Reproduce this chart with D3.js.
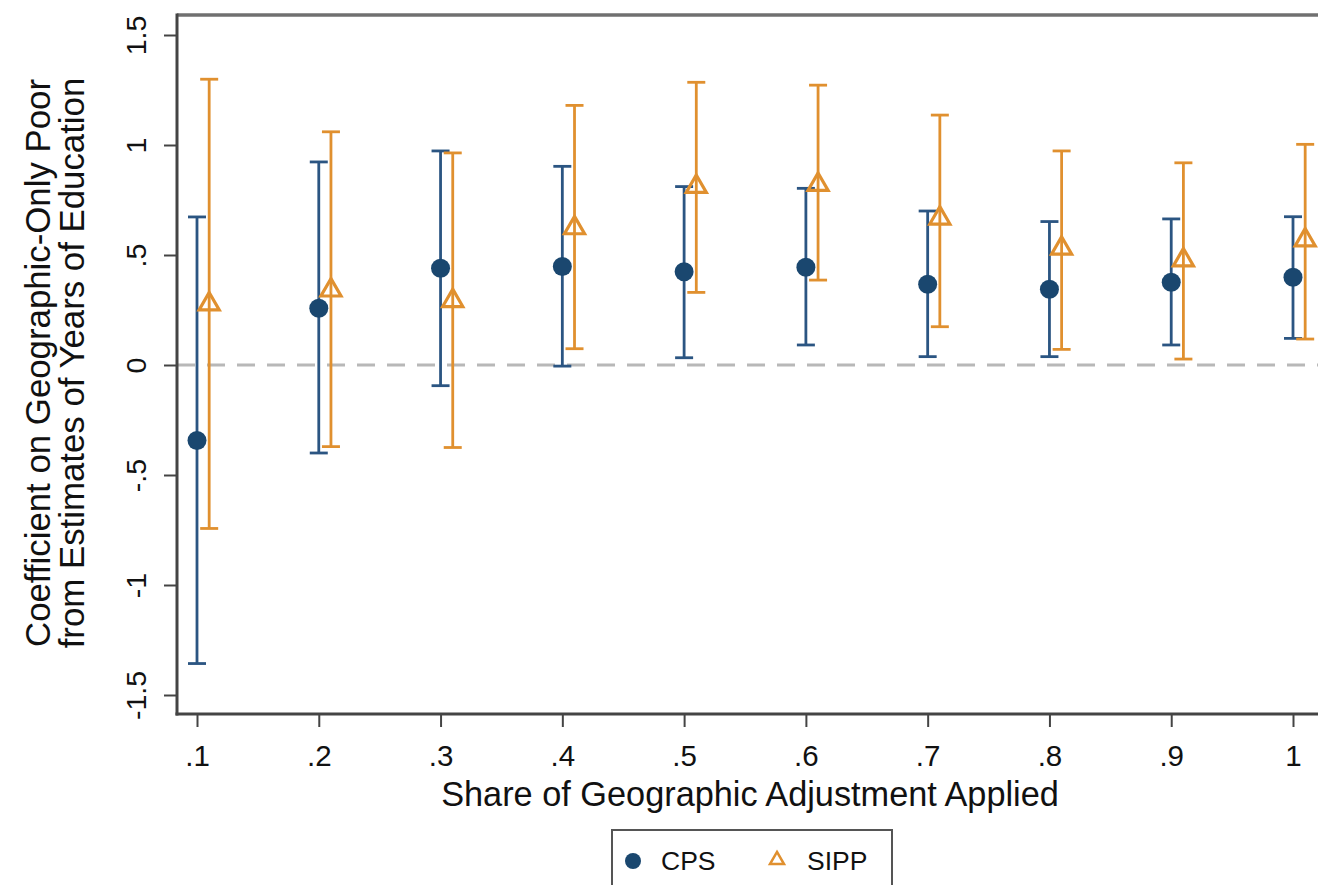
<!DOCTYPE html>
<html>
<head>
<meta charset="utf-8">
<script src="https://cdn.jsdelivr.net/npm/d3@7"></script>
<style>
  html, body { margin: 0; padding: 0; background: #fff; }
  svg { display: block; }
  text { font-family: "Liberation Sans", Arial, Helvetica, sans-serif; fill: #111; }
</style>
</head>
<body>
<svg id="chart" width="1318" height="885"></svg>
<script>
// ---- data ----
const shares = [0.1, 0.2, 0.3, 0.4, 0.5, 0.6, 0.7, 0.8, 0.9, 1.0];
const cpsEst  = [-0.343, 0.258, 0.440, 0.448, 0.424, 0.444, 0.367, 0.344, 0.376, 0.399];
const cpsLo   = [-1.357, -0.400, -0.094, -0.005, 0.033, 0.091, 0.038, 0.038, 0.091, 0.121];
const cpsHi   = [0.673, 0.923, 0.973, 0.903, 0.811, 0.803, 0.700, 0.652, 0.664, 0.674];
const sippEst = [0.277, 0.340, 0.292, 0.623, 0.811, 0.820, 0.667, 0.530, 0.477, 0.568];
const sippLo  = [-0.743, -0.371, -0.375, 0.074, 0.330, 0.386, 0.174, 0.071, 0.027, 0.118];
const sippHi  = [1.299, 1.060, 0.964, 1.180, 1.285, 1.272, 1.136, 0.973, 0.919, 1.003];
const sippOffset = 0.01;
const xTicks = [0.1, 0.2, 0.3, 0.4, 0.5, 0.6, 0.7, 0.8, 0.9, 1.0];
const xTickLabels = [".1", ".2", ".3", ".4", ".5", ".6", ".7", ".8", ".9", "1"];
const yTicks = [-1.5, -1, -0.5, 0, 0.5, 1, 1.5];
const yTickLabels = ["-1.5", "-1", "-.5", "0", ".5", "1", "1.5"];
const seriesNames = ["CPS", "SIPP"];

// ---- styles ----
const navy = "#1a476f";
const orange = "#e0902f";

const svg = d3.select("#chart");
const plot = { left: 177, top: 15, right: 1323, bottom: 714 };

const x = d3.scaleLinear().domain([0.1, 1.0]).range([197, 1293]);
const y = d3.scaleLinear().domain([-1.5, 1.5]).range([695, 35]);

// zero reference line
svg.append("line")
  .attr("x1", plot.left).attr("x2", plot.right)
  .attr("y1", y(0)).attr("y2", y(0))
  .attr("stroke", "#b8b8b8").attr("stroke-width", 3)
  .attr("stroke-dasharray", "18,12");

// top border
svg.append("line")
  .attr("x1", plot.left).attr("x2", plot.right)
  .attr("y1", plot.top).attr("y2", plot.top)
  .attr("stroke", "#707070").attr("stroke-width", 3.5);

// y axis
const yAxis = d3.axisLeft(y).tickValues(yTicks)
  .tickFormat((d, i) => yTickLabels[i]).tickSizeOuter(0).tickSize(13);
const gy = svg.append("g").attr("transform", `translate(${plot.left},0)`).call(yAxis);
gy.select(".domain").remove();
gy.append("line").attr("x1", 0).attr("x2", 0)
  .attr("y1", plot.top - 1.5).attr("y2", plot.bottom + 1.5)
  .attr("stroke", "#444").attr("stroke-width", 3);
gy.selectAll(".tick line").attr("stroke", "#444").attr("stroke-width", 2);
gy.selectAll(".tick text")
  .attr("x", null).attr("dy", null)
  .attr("transform", "translate(-31,0) rotate(-90)")
  .attr("text-anchor", "middle")
  .attr("font-size", 28.5)
  .style("fill", "#111");

// x axis
const xAxis = d3.axisBottom(x).tickValues(xTicks)
  .tickFormat((d, i) => xTickLabels[i]).tickSizeOuter(0).tickSize(13);
const gx = svg.append("g").attr("transform", `translate(0,${plot.bottom})`).call(xAxis);
gx.select(".domain").remove();
gx.append("line").attr("x1", plot.left - 1.5).attr("x2", plot.right)
  .attr("y1", 0).attr("y2", 0)
  .attr("stroke", "#444").attr("stroke-width", 3);
gx.selectAll(".tick line").attr("stroke", "#444").attr("stroke-width", 2);
gx.selectAll(".tick text")
  .attr("y", 52).attr("dy", null)
  .attr("font-size", 29.5)
  .style("fill", "#111");

// axis titles
svg.append("text")
  .attr("x", 750).attr("y", 806)
  .attr("text-anchor", "middle")
  .attr("font-size", 34.3)
  .text("Share of Geographic Adjustment Applied");

const yTitle = svg.append("text")
  .attr("transform", `translate(0,363) rotate(-90)`)
  .attr("text-anchor", "middle")
  .attr("font-size", 34.8);
yTitle.append("tspan").attr("x", 0).attr("y", 50).text("Coefficient on Geographic-Only Poor");
yTitle.append("tspan").attr("x", 0).attr("y", 84).text("from Estimates of Years of Education");

// data rows
const cps = shares.map((s, i) => ({ x: s, est: cpsEst[i], lo: cpsLo[i], hi: cpsHi[i] }));
const sipp = shares.map((s, i) => ({ x: s + sippOffset, est: sippEst[i], lo: sippLo[i], hi: sippHi[i] }));

const capHalf = 9;
function errorBars(data, color, width) {
  const g = svg.append("g");
  g.selectAll(".v").data(data).join("line")
    .attr("x1", d => x(d.x)).attr("x2", d => x(d.x))
    .attr("y1", d => y(d.lo)).attr("y2", d => y(d.hi))
    .attr("stroke", color).attr("stroke-width", width);
  g.selectAll(".hi").data(data).join("line")
    .attr("x1", d => x(d.x) - capHalf).attr("x2", d => x(d.x) + capHalf)
    .attr("y1", d => y(d.hi)).attr("y2", d => y(d.hi))
    .attr("stroke", color).attr("stroke-width", width);
  g.selectAll(".lo").data(data).join("line")
    .attr("x1", d => x(d.x) - capHalf).attr("x2", d => x(d.x) + capHalf)
    .attr("y1", d => y(d.lo)).attr("y2", d => y(d.lo))
    .attr("stroke", color).attr("stroke-width", width);
}
errorBars(cps, "#2b5582", 2.8);
errorBars(sipp, orange, 2.8);

// markers
svg.append("g").selectAll("circle").data(cps).join("circle")
  .attr("cx", d => x(d.x)).attr("cy", d => y(d.est)).attr("r", 9.5)
  .attr("fill", navy);

const tri = d3.symbol().type(d3.symbolTriangle).size(175);
svg.append("g").selectAll("path").data(sipp).join("path")
  .attr("d", tri)
  .attr("transform", d => `translate(${x(d.x)},${y(d.est)})`)
  .attr("fill", "none").attr("stroke", orange).attr("stroke-width", 3.2);

// legend
const lg = svg.append("g");
lg.append("rect").attr("x", 612).attr("y", 830).attr("width", 280).attr("height", 62)
  .attr("fill", "#fff").attr("stroke", "#555").attr("stroke-width", 2);
lg.append("circle").attr("cx", 633).attr("cy", 861).attr("r", 8).attr("fill", navy);
lg.append("text").attr("x", 661).attr("y", 870).attr("font-size", 26.5).text(seriesNames[0]);
lg.append("path").attr("d", d3.symbol().type(d3.symbolTriangle).size(85))
  .attr("transform", "translate(777,860)")
  .attr("fill", "none").attr("stroke", orange).attr("stroke-width", 2.5);
lg.append("text").attr("x", 807).attr("y", 870).attr("font-size", 26.5).text(seriesNames[1]);
</script>
</body>
</html>
